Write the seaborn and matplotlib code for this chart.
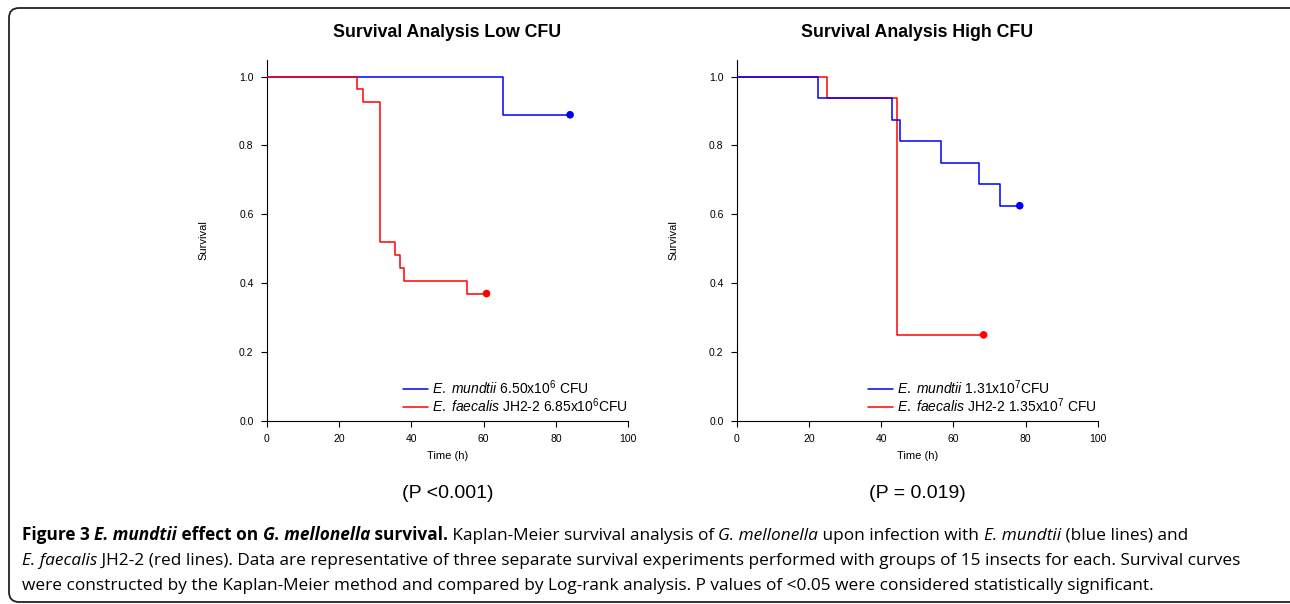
import matplotlib
matplotlib.use("Agg")
import matplotlib.pyplot as plt
import seaborn as sns
from matplotlib.patches import FancyBboxPatch
from matplotlib.transforms import IdentityTransform

# --- data ---
low_mundtii_t = [0, 65.3, 83.9]
low_mundtii_s = [1.0, 0.889, 0.889]
low_faecalis_t = [0, 25.0, 26.5, 31.4, 35.5, 36.9, 37.9, 55.4, 60.8]
low_faecalis_s = [1.0, 0.963, 0.926, 0.519, 0.481, 0.444, 0.407, 0.370, 0.370]

high_mundtii_t = [0, 22.4, 42.9, 45.1, 56.6, 67.2, 72.8, 78.4]
high_mundtii_s = [1.0, 0.9375, 0.875, 0.8125, 0.75, 0.6875, 0.625, 0.625]
high_faecalis_t = [0, 24.9, 44.4, 68.4]
high_faecalis_s = [1.0, 0.9375, 0.25, 0.25]

titles = ["Survival Analysis Low CFU", "Survival Analysis High CFU"]
p_texts = ["(P <0.001)", "(P = 0.019)"]
low_labels = [r"$\mathit{E.}$ $\mathit{mundtii}$ 6.50x10$^{6}$ CFU",
              r"$\mathit{E.}$ $\mathit{faecalis}$ JH2-2 6.85x10$^{6}$CFU"]
high_labels = [r"$\mathit{E.}$ $\mathit{mundtii}$ 1.31x10$^{7}$CFU",
               r"$\mathit{E.}$ $\mathit{faecalis}$ JH2-2 1.35x10$^{7}$ CFU"]
xticks = [0, 20, 40, 60, 80, 100]
yticks = [0.0, 0.2, 0.4, 0.6, 0.8, 1.0]

BLUE = "#0000ff"
RED = "#ff0000"

sns.set_style("ticks")
plt.rcParams["font.family"] = ["Liberation Sans", "DejaVu Sans"]
plt.rcParams["text.color"] = "black"
plt.rcParams["axes.labelcolor"] = "black"
plt.rcParams["mathtext.fontset"] = "custom"
plt.rcParams["mathtext.rm"] = "Liberation Sans"
plt.rcParams["mathtext.it"] = "Liberation Sans:italic"
plt.rcParams["mathtext.bf"] = "Liberation Sans:bold"

W, H = 1290, 604
fig = plt.figure(figsize=(W / 100, H / 100), dpi=100)

ax_low = fig.add_axes([266.7 / W, 1 - 421 / H, 361.6 / W, 361 / H])
ax_high = fig.add_axes([736.7 / W, 1 - 421 / H, 361.0 / W, 361 / H])

panels = [
    (ax_low, low_mundtii_t, low_mundtii_s, low_faecalis_t, low_faecalis_s, low_labels, 0.377, 2),
    (ax_high, high_mundtii_t, high_mundtii_s, high_faecalis_t, high_faecalis_s, high_labels, 0.363, 1),
]

for i, (ax, bt, bs, rt, rs, labels, lx, red_z) in enumerate(panels):
    sns.lineplot(x=bt, y=bs, ax=ax, color=BLUE, lw=1.1, drawstyle="steps-post",
                 estimator=None, sort=False, label=labels[0], zorder=3 - red_z + 1)
    sns.lineplot(x=rt, y=rs, ax=ax, color=RED, lw=1.1, drawstyle="steps-post",
                 estimator=None, sort=False, label=labels[1], zorder=red_z + 1)
    sns.scatterplot(x=[bt[-1]], y=[bs[-1]], ax=ax, color=BLUE, s=30,
                    edgecolor="none", zorder=5)
    sns.scatterplot(x=[rt[-1]], y=[rs[-1]], ax=ax, color=RED, s=30,
                    edgecolor="none", zorder=5)

    ax.set_xlim(0, 100)
    ax.set_ylim(0, 1.048)
    ax.set_xticks(xticks)
    ax.set_yticks(yticks)
    ax.set_xticklabels([str(v) for v in xticks])
    ax.set_yticklabels([f"{v:.1f}" for v in yticks])
    ax.tick_params(direction="out", length=4.5, width=0.8, labelsize=7.5, pad=5,
                   color="black", labelcolor="black")
    for sp in ["left", "bottom"]:
        ax.spines[sp].set_linewidth(0.8)
        ax.spines[sp].set_color("black")
    sns.despine(ax=ax)
    ax.set_xlabel("Time (h)", fontsize=8, labelpad=5)
    ax.set_ylabel("Survival", fontsize=8, labelpad=22)
    ax.set_title(titles[i], fontsize=12.8, fontweight="bold", pad=16.5, color="black")

    ax.legend(loc="lower left", bbox_to_anchor=(lx, 0.018), frameon=False,
              fontsize=10, handlelength=1.8, handletextpad=0.3,
              borderpad=0, borderaxespad=0, labelspacing=-0.08)

    cx = (ax.get_position().x0 + ax.get_position().x1) / 2
    fig.text(cx, 1 - 494 / H, p_texts[i], fontsize=14, ha="center", va="center")

# --- rounded frame ---
frame = FancyBboxPatch((9, 2), 1300, 594, boxstyle="round,pad=0,rounding_size=10",
                       transform=IdentityTransform(), fill=False,
                       edgecolor="#222222", lw=1.3)
fig.patches.append(frame)

# --- caption, built from styled runs ---
cap_font = ["Open Sans", "DejaVu Sans"]
caption = [
    (540, [("Figure 3 ", "bold", "normal"), ("E. mundtii", "bold", "italic"),
           (" effect on ", "bold", "normal"), ("G. mellonella", "bold", "italic"),
           (" survival.", "bold", "normal"),
           (" Kaplan-Meier survival analysis of ", "normal", "normal"),
           ("G. mellonella", "normal", "italic"),
           (" upon infection with ", "normal", "normal"),
           ("E. mundtii", "normal", "italic"), (" (blue lines) and", "normal", "normal")]),
    (565, [("E. faecalis", "normal", "italic"),
           (" JH2-2 (red lines). Data are representative of three separate survival "
            "experiments performed with groups of 15 insects for each. Survival curves",
            "normal", "normal")]),
    (590, [("were constructed by the Kaplan-Meier method and compared by Log-rank "
            "analysis. P values of <0.05 were considered statistically significant.",
            "normal", "normal")]),
]

renderer = fig.canvas.get_renderer()


def run_width(s, size, weight, style):
    t1 = fig.text(0, 0, "X" + s + "X", fontsize=size, fontweight=weight,
                  fontstyle=style, family=cap_font)
    t0 = fig.text(0, 0, "XX", fontsize=size, fontweight=weight,
                  fontstyle=style, family=cap_font)
    w = t1.get_window_extent(renderer).width - t0.get_window_extent(renderer).width
    t1.remove()
    t0.remove()
    return w


# fit font size so line 2 spans the same width as in the figure
base = 10.0
w2 = sum(run_width(s, base, wt, st) for s, wt, st in caption[1][1])
cap_size = base * (1240 - 22) / w2

x_start = 22
for y_px, runs in caption:
    x = x_start
    for s, wt, st in runs:
        fig.text(x / W, 1 - y_px / H, s, fontsize=cap_size, fontweight=wt,
                 fontstyle=st, family=cap_font, ha="left", va="baseline")
        x += run_width(s, cap_size, wt, st)

fig.savefig("out.png", dpi=100)
